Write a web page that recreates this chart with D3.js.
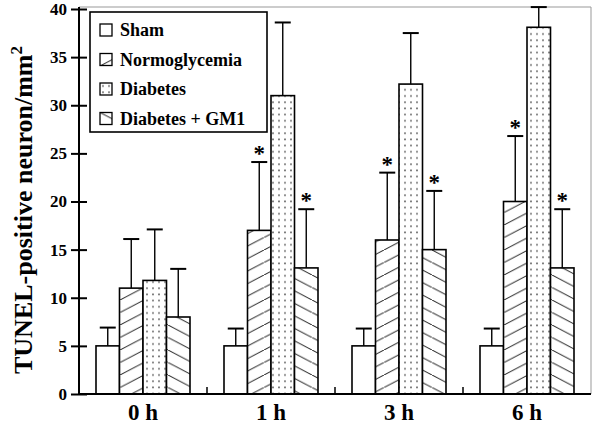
<!DOCTYPE html>
<html>
<head>
<meta charset="UTF-8">
<script src="https://d3js.org/d3.v7.min.js"></script>
<style>
  body { margin: 0; background: #fff; }
  text { font-family: "Liberation Serif", "Times New Roman", serif; font-weight: bold; fill: #000; }
</style>
</head>
<body>
<script>
// data
const times = ["0 h", "1 h", "3 h", "6 h"];
const groups = ["Sham", "Normoglycemia", "Diabetes", "Diabetes + GM1"];
const sham     = [5.0, 5.0, 5.0, 5.0];
const shamErr  = [1.9, 1.8, 1.8, 1.8];
const normo    = [11.0, 17.0, 16.0, 20.0];
const normoErr = [5.1, 7.1, 7.0, 6.8];
const diab     = [11.8, 31.0, 32.2, 38.1];
const diabErr  = [5.3, 7.6, 5.3, 2.1];
const gm1      = [8.0, 13.1, 15.0, 13.1];
const gm1Err   = [5.0, 6.1, 6.1, 6.1];
const starNormo = [false, true, true, true];
const starGm1   = [false, true, true, true];
const yTicks = [0, 5, 10, 15, 20, 25, 30, 35, 40];

const width = 601, height = 426;
const margin = { top: 9, right: 10, bottom: 32, left: 79 };

const svg = d3.select("body").append("svg")
  .attr("width", width).attr("height", height);

// patterns
const defs = svg.append("defs");
const pNormo = defs.append("pattern").attr("id", "p-normo")
  .attr("patternUnits", "userSpaceOnUse").attr("width", 24).attr("height", 12.5);
pNormo.append("rect").attr("width", 24).attr("height", 12.5).attr("fill", "#fff");
pNormo.append("line").attr("x1", 0).attr("y1", 12.5).attr("x2", 24).attr("y2", 0)
  .attr("stroke", "#222").attr("stroke-width", 1);

const pGm1 = defs.append("pattern").attr("id", "p-gm1")
  .attr("patternUnits", "userSpaceOnUse").attr("width", 24).attr("height", 12.5);
pGm1.append("rect").attr("width", 24).attr("height", 12.5).attr("fill", "#fff");
pGm1.append("line").attr("x1", 0).attr("y1", 0).attr("x2", 24).attr("y2", 12.5)
  .attr("stroke", "#222").attr("stroke-width", 1);

const pDiab = defs.append("pattern").attr("id", "p-diab")
  .attr("patternUnits", "userSpaceOnUse").attr("width", 6).attr("height", 6.2);
pDiab.append("rect").attr("width", 6).attr("height", 6.2).attr("fill", "#fff");
pDiab.append("circle").attr("cx", 3).attr("cy", 3).attr("r", 0.9).attr("fill", "#666");

const fills = ["#fff", "url(#p-normo)", "url(#p-diab)", "url(#p-gm1)"];

// scales
const x = d3.scaleBand().domain(times)
  .range([margin.left, width - margin.right]).padding(0);
const xInner = d3.scaleBand().domain(groups)
  .range([17, x.bandwidth() - 17]).padding(0);
const y = d3.scaleLinear().domain([0, 40])
  .range([height - margin.bottom, margin.top]);

const series = [
  { vals: sham, err: shamErr, star: null },
  { vals: normo, err: normoErr, star: starNormo },
  { vals: diab, err: diabErr, star: null },
  { vals: gm1, err: gm1Err, star: starGm1 }
];

const rows = [];
times.forEach((t, i) => {
  series.forEach((s, k) => {
    rows.push({ t, g: groups[k], k, v: s.vals[i], e: s.err[i], star: s.star ? s.star[i] : false });
  });
});

// frame (top/right light)
svg.append("line")
  .attr("x1", margin.left).attr("x2", width - margin.right)
  .attr("y1", margin.top - 2).attr("y2", margin.top - 2)
  .attr("stroke", "#999").attr("stroke-width", 1);
svg.append("line")
  .attr("x1", width - margin.right).attr("x2", width - margin.right)
  .attr("y1", margin.top - 2).attr("y2", height - margin.bottom)
  .attr("stroke", "#999").attr("stroke-width", 1);

// error bars
const bx = d => x(d.t) + xInner(d.g) + xInner.bandwidth() / 2;
const eb = svg.append("g").selectAll("g").data(rows).enter().append("g");
eb.append("line")
  .attr("x1", bx).attr("x2", bx)
  .attr("y1", d => y(d.v)).attr("y2", d => y(d.v + d.e))
  .attr("stroke", "#000").attr("stroke-width", 1.4);
eb.append("line")
  .attr("x1", d => bx(d) - 8).attr("x2", d => bx(d) + 8)
  .attr("y1", d => y(d.v + d.e)).attr("y2", d => y(d.v + d.e))
  .attr("stroke", "#000").attr("stroke-width", 2);

// bars
svg.append("g").selectAll("rect").data(rows).enter().append("rect")
  .attr("x", d => x(d.t) + xInner(d.g))
  .attr("y", d => y(d.v))
  .attr("width", xInner.bandwidth())
  .attr("height", d => y(0) - y(d.v))
  .attr("fill", d => fills[d.k])
  .attr("stroke", "#000").attr("stroke-width", 1.6);

// significance stars
svg.append("g").selectAll("text").data(rows.filter(d => d.star)).enter().append("text")
  .attr("x", bx)
  .attr("y", d => y(d.v + d.e) - 1)
  .attr("text-anchor", "middle")
  .style("font-size", "23px")
  .text("*");

// y axis
const yAxis = svg.append("g")
  .attr("transform", `translate(${margin.left},0)`)
  .call(d3.axisLeft(y).tickValues(yTicks).tickSize(8).tickPadding(4));
yAxis.select(".domain").attr("stroke", "#000").attr("stroke-width", 2)
  .attr("d", `M0,${y(0)}V${margin.top - 2}`);
yAxis.selectAll(".tick line").attr("stroke-width", 2).attr("x2", 8).attr("x1", -8);
yAxis.selectAll(".tick text").style("font-size", "17px")
  .style("font-family", "Liberation Serif, serif").style("font-weight", "bold");

// x axis
const xAxis = svg.append("g")
  .attr("transform", `translate(0,${y(0)})`)
  .call(d3.axisBottom(x).tickSize(0).tickPadding(10));
xAxis.select(".domain").attr("stroke", "#000").attr("stroke-width", 2)
  .attr("d", `M${margin.left},0H${width - margin.right}`);
xAxis.selectAll(".tick text").style("font-size", "23px")
  .style("font-family", "Liberation Serif, serif").style("font-weight", "bold");
// small inward ticks between groups
svg.append("g").selectAll("line").data(times.slice(1)).enter().append("line")
  .attr("x1", d => x(d)).attr("x2", d => x(d))
  .attr("y1", y(0)).attr("y2", y(0) - 7)
  .attr("stroke", "#000").attr("stroke-width", 1.5);

// y label
const yl = svg.append("text")
  .attr("transform", "translate(32,210) rotate(-90)")
  .attr("text-anchor", "middle")
  .style("font-size", "26px");
yl.append("tspan").text("TUNEL-positive neuron/mm");
yl.append("tspan").attr("dy", -10).style("font-size", "17px").text("2");

// legend
const lg = svg.append("g").attr("transform", "translate(90,12)");
lg.append("rect").attr("width", 177).attr("height", 120)
  .attr("fill", "#fff").attr("stroke", "#000").attr("stroke-width", 1.6);
const li = lg.selectAll("g.item").data(groups).enter().append("g")
  .attr("class", "item")
  .attr("transform", (d, i) => `translate(10,${12 + i * 29.5})`);
li.append("rect").attr("width", 12).attr("height", 12)
  .attr("fill", (d, i) => fills[i]).attr("stroke", "#000").attr("stroke-width", 1.3);
li.append("text").attr("x", 20).attr("y", 12)
  .style("font-size", "18px").text(d => d);
</script>
</body>
</html>
